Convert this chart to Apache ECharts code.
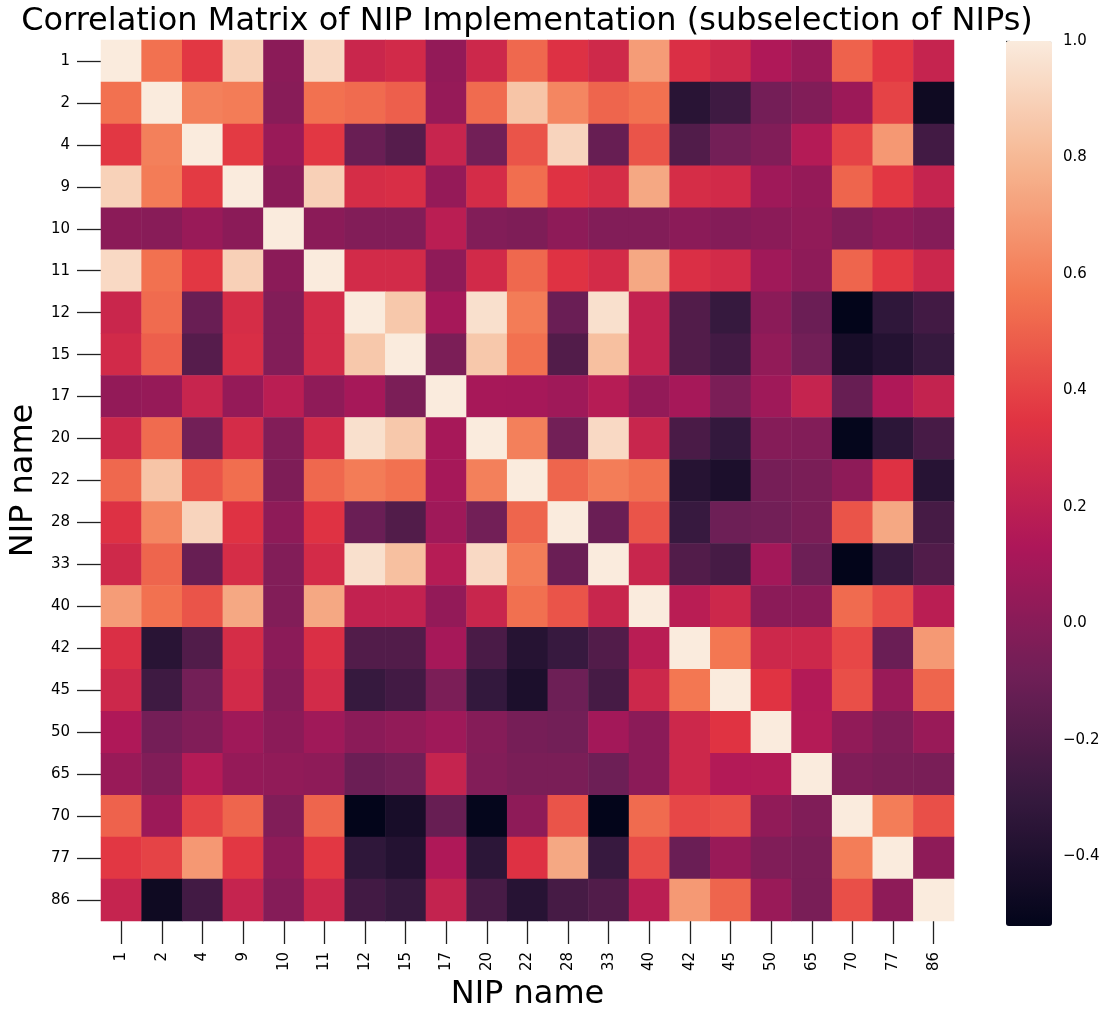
<!DOCTYPE html>
<html>
<head>
<meta charset="utf-8">
<script src="https://cdn.jsdelivr.net/npm/echarts@6/dist/echarts.min.js"></script>
<style>html,body{margin:0;padding:0;background:#fff;}#c{width:1105px;height:1016px;}</style>
</head>
<body>
<div id="c"></div>
<script>
const nips = ['1','2','4','9','10','11','12','15','17','20','22','28','33','40','42','45','50','65','70','77','86'];
const r1  = [1.00, 0.55, 0.36, 0.90, 0.01, 0.93, 0.25, 0.28, 0.04, 0.26, 0.52, 0.33, 0.27, 0.70, 0.32, 0.26, 0.14, 0.06, 0.50, 0.36, 0.23];
const r2  = [0.55, 1.00, 0.60, 0.585, 0.00, 0.55, 0.53, 0.49, 0.05, 0.53, 0.85, 0.62, 0.51, 0.55, -0.355, -0.27, -0.07, -0.025, 0.07, 0.40, -0.47];
const r4  = [0.36, 0.60, 1.00, 0.37, 0.06, 0.36, -0.11, -0.18, 0.24, -0.08, 0.455, 0.91, -0.12, 0.455, -0.20, -0.075, -0.025, 0.16, 0.40, 0.685, -0.255];
const r9  = [0.90, 0.585, 0.37, 1.00, 0.01, 0.895, 0.30, 0.31, 0.045, 0.295, 0.54, 0.34, 0.30, 0.74, 0.30, 0.28, 0.08, 0.045, 0.51, 0.36, 0.23];
const r10 = [0.01, 0.00, 0.06, 0.01, 1.00, 0.01, -0.02, -0.02, 0.186, -0.02, -0.035, 0.02, -0.02, -0.02, 0.01, -0.015, 0.01, 0.03, -0.025, 0.02, -0.01];
const r11 = [0.93, 0.55, 0.36, 0.895, 0.01, 1.00, 0.285, 0.285, 0.025, 0.28, 0.52, 0.34, 0.29, 0.74, 0.32, 0.285, 0.085, 0.02, 0.51, 0.36, 0.255];
const r12 = [0.25, 0.53, -0.11, 0.30, -0.02, 0.285, 1.00, 0.86, 0.107, 0.955, 0.585, -0.107, 0.955, 0.22, -0.195, -0.30, 0.01, -0.105, -0.52, -0.33, -0.255];
const r15 = [0.28, 0.49, -0.18, 0.31, -0.02, 0.285, 0.86, 1.00, -0.045, 0.86, 0.55, -0.195, 0.83, 0.22, -0.195, -0.255, 0.035, -0.08, -0.43, -0.375, -0.30];
const r17 = [0.04, 0.05, 0.24, 0.045, 0.186, 0.025, 0.107, -0.045, 1.00, 0.11, 0.105, 0.08, 0.17, 0.04, 0.105, -0.045, 0.08, 0.23, -0.12, 0.14, 0.225];
const r20 = [0.26, 0.53, -0.08, 0.295, -0.02, 0.28, 0.955, 0.86, 0.11, 1.00, 0.60, -0.08, 0.93, 0.245, -0.225, -0.31, -0.01, -0.02, -0.51, -0.34, -0.235];
const r22 = [0.52, 0.85, 0.455, 0.54, -0.035, 0.52, 0.585, 0.55, 0.105, 0.60, 1.00, 0.51, 0.59, 0.545, -0.37, -0.41, -0.065, -0.05, 0.02, 0.335, -0.365];
const r28 = [0.33, 0.62, 0.91, 0.34, 0.02, 0.34, -0.107, -0.195, 0.08, -0.08, 0.51, 1.00, -0.107, 0.455, -0.295, -0.095, -0.08, -0.05, 0.455, 0.74, -0.24];
const r33 = [0.27, 0.51, -0.12, 0.30, -0.02, 0.29, 0.955, 0.83, 0.17, 0.93, 0.59, -0.107, 1.00, 0.245, -0.195, -0.24, 0.095, -0.095, -0.52, -0.295, -0.20];
const r40 = [0.70, 0.55, 0.455, 0.74, -0.02, 0.74, 0.22, 0.22, 0.04, 0.245, 0.545, 0.455, 0.245, 1.00, 0.18, 0.26, 0.01, 0.01, 0.53, 0.43, 0.185];
const r42 = [0.32, -0.355, -0.20, 0.30, 0.01, 0.32, -0.195, -0.195, 0.105, -0.225, -0.37, -0.295, -0.195, 0.18, 1.00, 0.57, 0.26, 0.26, 0.415, -0.107, 0.69];
const r45 = [0.26, -0.27, -0.075, 0.28, -0.015, 0.285, -0.30, -0.255, -0.045, -0.31, -0.41, -0.095, -0.24, 0.26, 0.57, 1.00, 0.345, 0.155, 0.44, 0.06, 0.51];
const r50 = [0.14, -0.07, -0.025, 0.08, 0.01, 0.085, 0.01, 0.035, 0.08, -0.01, -0.065, -0.08, 0.095, 0.01, 0.26, 0.345, 1.00, 0.16, 0.03, -0.03, 0.06];
const r65 = [0.06, -0.025, 0.16, 0.045, 0.03, 0.02, -0.105, -0.08, 0.23, -0.02, -0.05, -0.05, -0.095, 0.01, 0.26, 0.155, 0.16, 1.00, -0.03, -0.05, -0.055];
const r70 = [0.50, 0.07, 0.40, 0.51, -0.025, 0.51, -0.52, -0.43, -0.12, -0.51, 0.02, 0.455, -0.52, 0.53, 0.415, 0.44, 0.03, -0.03, 1.00, 0.59, 0.44];
const r77 = [0.36, 0.40, 0.685, 0.36, 0.02, 0.36, -0.33, -0.375, 0.14, -0.34, 0.335, 0.74, -0.295, 0.43, -0.107, 0.06, -0.03, -0.05, 0.59, 1.00, 0.02];
const r86 = [0.23, -0.47, -0.255, 0.23, -0.01, 0.255, -0.255, -0.30, 0.225, -0.235, -0.365, -0.24, -0.20, 0.185, 0.69, 0.51, 0.06, -0.055, 0.44, 0.02, 1.00];
const colorbarTicks = [-0.4, -0.2, 0.0, 0.2, 0.4, 0.6, 0.8, 1.0];
const vMin = -0.52, vMax = 1.0;

const rows = [r1,r2,r4,r9,r10,r11,r12,r15,r17,r20,r22,r28,r33,r40,r42,r45,r50,r65,r70,r77,r86];
const cells = [];
rows.forEach((row, yi) => row.forEach((v, xi) => cells.push([xi, yi, v])));

const rocket = ['#03051a','#35193e','#701f57','#ad1759','#e13342','#f37651','#f6b48f','#faebdd'];
const FONT = 'DejaVu Sans';
const fmt = v => (Math.abs(v) < 1e-9 ? '0.0' : v.toFixed(1).replace('-', '\u2212'));

const chart = echarts.init(document.getElementById('c'), null, {renderer: 'canvas'});
chart.setOption({
  backgroundColor: '#ffffff',
  animation: false,
  title: {
    text: 'Correlation Matrix of NIP Implementation (subselection of NIPs)',
    left: 527, top: 6, textAlign: 'center', padding: 0,
    textStyle: {fontFamily: FONT, fontSize: 32, fontWeight: 'normal', color: '#000'}
  },
  grid: [
    {left: 100, top: 40, width: 854, height: 886, containLabel: false},
    {left: 1006, top: 41, width: 46, height: 885, containLabel: false}
  ],
  xAxis: [
    {
      type: 'category', data: nips, gridIndex: 0, position: 'bottom',
      name: 'NIP name', nameLocation: 'middle', nameGap: 55,
      nameTextStyle: {fontFamily: FONT, fontSize: 32, color: '#000'},
      axisLine: {show: false},
      axisTick: {show: true, alignWithLabel: true, length: 23, lineStyle: {color: '#222', width: 1.3}},
      axisLabel: {rotate: 90, margin: 31, fontFamily: FONT, fontSize: 15, color: '#000', interval: 0},
      splitLine: {show: false}
    },
    {type: 'value', gridIndex: 1, show: false, min: 0, max: 1}
  ],
  yAxis: [
    {
      type: 'category', data: nips, gridIndex: 0, inverse: true,
      name: 'NIP name', nameLocation: 'middle', nameGap: 50,
      nameTextStyle: {fontFamily: FONT, fontSize: 32, color: '#000'},
      axisLine: {show: false},
      axisTick: {show: true, alignWithLabel: true, length: 24, lineStyle: {color: '#222', width: 1.3}},
      axisLabel: {margin: 31, fontFamily: FONT, fontSize: 15, color: '#000', interval: 0},
      splitLine: {show: false}
    },
    {
      type: 'value', gridIndex: 1, position: 'right', min: vMin, max: vMax,
      axisLine: {show: false},
      axisTick: {show: true, length: 4, customValues: colorbarTicks, lineStyle: {color: '#222', width: 1.2}},
      axisLabel: {show: true, margin: 11, customValues: colorbarTicks, formatter: fmt, fontFamily: FONT, fontSize: 15, color: '#000'},
      splitLine: {show: false}
    }
  ],
  visualMap: {
    type: 'continuous', min: vMin, max: vMax, dimension: 2, seriesIndex: 0,
    calculable: false, orient: 'vertical', left: 1006, top: 41, padding: 0,
    itemWidth: 46, itemHeight: 885, text: null, showLabel: false, hoverLink: false,
    inRange: {color: rocket}
  },
  series: [{
    type: 'heatmap', xAxisIndex: 0, yAxisIndex: 0, data: cells,
    itemStyle: {borderWidth: 0},
    emphasis: {disabled: true},
    label: {show: false}
  }]
});
</script>
</body>
</html>
